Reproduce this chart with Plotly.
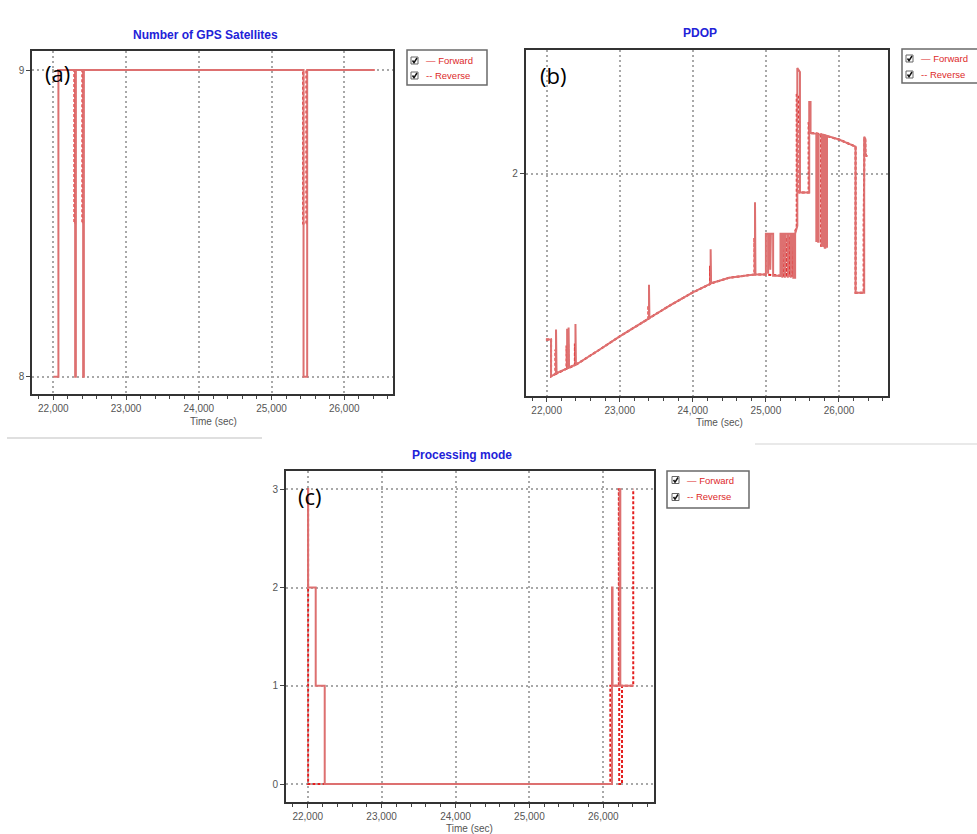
import plotly.graph_objects as go

W, H = 977, 834

# ---------------- data ----------------
# (a) Number of GPS satellites
sat_fwd_t = [22000, 22070, 22300, 22310, 22410, 22420, 25440, 25490, 26415]
sat_fwd_v = [8, 9, 8, 9, 8, 9, 8, 9, 9]
sat_rev_t = [22070, 22290, 22300, 22400, 22410, 25435, 25480, 26415]
sat_rev_v = [9, 8.5, 9, 8.5, 9, 8.5, 9, 9]

# (b) PDOP
pdop_fwd_t = [21990, 22060, 22060, 22128, 22128, 22135, 22280, 22280, 22286, 22300, 22300, 22306,
              22394, 22394, 22400, 22700, 23000, 23400, 23400, 23406, 23700, 24000,
              24244, 24244, 24250, 24500, 24773, 24851, 24851, 24857, 25000,
              25000, 25030, 25030, 25040, 25040, 25060, 25060, 25068, 25068, 25099, 25099,
              25200, 25200, 25225, 25225, 25235, 25235, 25260, 25260, 25270, 25270,
              25300, 25300, 25310, 25310, 25340, 25340, 25350, 25350, 25375, 25375,
              25394, 25400, 25400, 25420, 25430, 25430, 25466, 25466, 25593, 25593,
              25611, 25611, 25690, 25690, 25697, 25697, 25715, 25715, 25722, 25722,
              25761, 25761, 25768, 25768, 25785, 25785, 25792, 25792, 25806, 25806,
              25813, 25813, 25829, 25829, 25836, 25836, 25900, 26000, 26100, 26227,
              26227, 26345, 26345, 26360, 26362, 26381]
pdop_fwd_v = [1.585, 1.585, 1.493, 1.500, 1.610, 1.501, 1.513, 1.612, 1.513, 1.514, 1.615, 1.515,
              1.522, 1.624, 1.522, 1.557, 1.593, 1.638, 1.7225, 1.639, 1.672, 1.703,
              1.725, 1.811, 1.726, 1.740, 1.7475, 1.748, 1.929, 1.748, 1.748,
              1.850, 1.850, 1.750, 1.750, 1.850, 1.850, 1.760, 1.760, 1.850, 1.850, 1.745,
              1.745, 1.850, 1.850, 1.740, 1.740, 1.850, 1.850, 1.740, 1.740, 1.850,
              1.850, 1.740, 1.740, 1.850, 1.850, 1.740, 1.740, 1.850, 1.850, 1.740,
              1.740, 1.740, 1.850, 1.870, 1.870, 2.265, 2.255, 1.953, 1.953, 2.180,
              2.180, 2.1025, 2.100, 1.832, 1.832, 2.100, 2.099, 1.830, 1.830, 2.099,
              2.098, 1.820, 1.820, 2.098, 2.097, 1.820, 1.820, 2.097, 2.096, 1.815,
              1.815, 2.096, 2.095, 1.8175, 1.8175, 2.095, 2.092, 2.086, 2.078, 2.068,
              1.7025, 1.7025, 2.093, 2.088, 2.050, 2.043]
pdop_rev_t = [21990, 22060, 22060, 22120, 22120, 22126, 22272, 22272, 22278, 22294, 22294, 22300,
              22386, 22386, 22392, 22700, 23000, 23392, 23392, 23398, 23700, 24000,
              24236, 24236, 24242, 24500, 24773, 24843, 24843, 24849, 25000, 25210,
              25210, 25218, 25218, 25245, 25245, 25252, 25252, 25285, 25285, 25292, 25292,
              25325, 25325, 25332, 25332, 25362, 25362, 25368, 25368, 25394, 25394, 25422,
              25422, 25450, 25450, 25458, 25458, 25585, 25585, 25600, 25700,
              25755, 25755, 25760, 25760, 25775, 25775, 25780, 25780, 25798, 25798, 25803, 25803,
              25900, 26000, 26100, 26227, 26227, 26338, 26338, 26350, 26360, 26362, 26381]
pdop_rev_v = [1.585, 1.585, 1.493, 1.499, 1.560, 1.499, 1.512, 1.570, 1.512, 1.514, 1.575, 1.514,
              1.521, 1.575, 1.521, 1.557, 1.593, 1.637, 1.670, 1.638, 1.672, 1.703,
              1.724, 1.770, 1.725, 1.740, 1.7475, 1.748, 1.840, 1.748, 1.748, 1.745,
              1.840, 1.840, 1.745, 1.745, 1.840, 1.840, 1.745, 1.745, 1.840, 1.840, 1.745,
              1.745, 1.840, 1.840, 1.745, 1.745, 1.840, 1.840, 1.745, 1.745, 1.850, 1.870,
              2.200, 2.190, 2.130, 2.130, 1.953, 1.953, 2.130, 2.102, 2.101,
              2.098, 1.820, 1.820, 2.098, 2.097, 1.820, 1.820, 2.097, 2.096, 1.815, 1.815, 2.096,
              2.092, 2.086, 2.078, 2.068, 1.7025, 1.7025, 1.880, 2.090, 2.085, 2.050, 2.043]

# (c) Processing mode
mode_fwd_t = [22000, 22005, 22108, 22230, 26118, 26125, 26221, 26230, 26411]
mode_fwd_v = [3, 2, 1, 0, 2, 1, 3, 1, 1]
mode_rev_t = [21995, 22005, 26095, 26210, 26215, 26253, 26405, 26411]
mode_rev_v = [3, 0, 1, 3, 0, 1, 3, 3]

titles = ["Number of GPS Satellites", "PDOP", "Processing mode"]
panel_tags = ["(a)", "(b)", "(c)"]
series_names = ["Forward", "Reverse"]
x_title = "Time (sec)"

# ---------------- styling / layout helpers ----------------
def px(x):
    return x / W

def py(y):
    return 1 - y / H

FWD = "rgb(221,112,112)"
REV = "rgb(228,30,30)"
TXT = "#555555"
FONT = "Liberation Sans, Arial, sans-serif"

fig = go.Figure()

panels = [
    dict(ft=sat_fwd_t, fv=sat_fwd_v, rt=sat_rev_t, rv=sat_rev_v, shape="hv",
         box=(32.3, 51, 393.3, 394), xr=[21711, 26674], yr=[7.944, 9.062]),
    dict(ft=pdop_fwd_t, fv=pdop_fwd_v, rt=pdop_rev_t, rv=pdop_rev_v, shape="linear",
         box=(525.7, 50, 888.3, 395.7), xr=[21713, 26675], yr=[1.4445, 2.31]),
    dict(ft=mode_fwd_t, fv=mode_fwd_v, rt=mode_rev_t, rv=mode_rev_v, shape="hv",
         box=(286, 471, 654.3, 801.7), xr=[21706, 26690], yr=[-0.18, 3.186]),
]

layout = dict(width=W, height=H,
              margin=dict(l=0, r=0, t=0, b=0, autoexpand=False),
              paper_bgcolor="white", plot_bgcolor="white", showlegend=False)

for i, p in enumerate(panels):
    sfx = "" if i == 0 else str(i + 1)
    xa, ya = "x" + sfx, "y" + sfx
    fig.add_trace(go.Scatter(x=p["rt"], y=p["rv"], mode="lines", name=series_names[1],
                             line=dict(color=REV, width=2, dash="3px,2px", shape=p["shape"]),
                             xaxis=xa, yaxis=ya, hoverinfo="skip"))
    fig.add_trace(go.Scatter(x=p["ft"], y=p["fv"], mode="lines", name=series_names[0],
                             line=dict(color=FWD, width=2, shape=p["shape"]),
                             xaxis=xa, yaxis=ya, hoverinfo="skip"))
    x0, y0, x1, y1 = p["box"]
    layout["xaxis" + sfx] = dict(
        domain=[px(x0), px(x1)], range=p["xr"], anchor=ya,
        tick0=0, dtick=1000, tickformat=",d",
        ticks="outside", ticklen=4, tickwidth=1, tickcolor="#444",
        minor=dict(dtick=200, ticks="outside", ticklen=3, tickcolor="#444", showgrid=False),
        showgrid=True, gridcolor="#a8a8a8", gridwidth=1.5, griddash="2px,3px",
        showline=True, linecolor="#333333", linewidth=2, mirror=True,
        zeroline=False, tickfont=dict(family=FONT, size=10, color=TXT))
    layout["yaxis" + sfx] = dict(
        domain=[py(y1), py(y0)], range=p["yr"], anchor=xa,
        tick0=0, dtick=1,
        ticks="outside", ticklen=4, tickwidth=1, tickcolor="#444",
        showgrid=True, gridcolor="#a8a8a8", gridwidth=1.5, griddash="2px,3px",
        showline=True, linecolor="#333333", linewidth=2, mirror=True,
        zeroline=False, tickfont=dict(family=FONT, size=10, color=TXT))

fig.update_layout(**layout)

ann = []
# chart titles
for text, (cx, cy) in zip(titles, [(205, 35), (700, 33), (462, 455)]):
    ann.append(dict(x=px(cx), y=py(cy), xref="paper", yref="paper", text="<b>%s</b>" % text,
                    showarrow=False, xanchor="center", yanchor="middle",
                    font=dict(family=FONT, size=12, color="#2222d8")))
# axis titles
for cx, cy in [(213, 422), (719, 423), (469, 828)]:
    ann.append(dict(x=px(cx), y=py(cy), xref="paper", yref="paper", text=x_title,
                    showarrow=False, xanchor="center", yanchor="middle",
                    font=dict(family=FONT, size=10, color=TXT)))
# panel tags
for tag, (cx, cy) in zip(panel_tags, [(57, 73), (553, 75), (310, 496)]):
    ann.append(dict(x=px(cx), y=py(cy), xref="paper", yref="paper", text=tag,
                    showarrow=False, xanchor="center", yanchor="middle",
                    font=dict(family="Open Sans, sans-serif", size=22, color="black")))

shapes = []
# legends: (box x0, y0, x1, y1, row1 y, row2 y, checkbox x, text x)
legends = [(407, 50, 487, 85, 60.5, 75.5, 411, 424),
           (902, 49, 985, 83, 58.5, 74.5, 906, 919),
           (667, 471, 749, 508, 480, 497, 672, 685)]
labels = ["— " + series_names[0], "-- " + series_names[1]]
for bx0, by0, bx1, by1, r1, r2, cbx, tx in legends:
    shapes.append(dict(type="rect", xref="paper", yref="paper",
                       x0=px(bx0), y0=py(by0), x1=px(bx1), y1=py(by1),
                       line=dict(color="#6a6a6a", width=1.5), fillcolor="white"))
    for ry, lab in zip([r1, r2], labels):
        shapes.append(dict(type="rect", xref="paper", yref="paper",
                           x0=px(cbx), y0=py(ry - 3.5), x1=px(cbx + 7), y1=py(ry + 3.5),
                           line=dict(color="#666", width=1), fillcolor="white"))
        shapes.append(dict(type="path", xref="paper", yref="paper",
                           path="M %f %f L %f %f L %f %f" % (px(cbx + 1.5), py(ry), px(cbx + 3), py(ry + 2.2),
                                                             px(cbx + 6), py(ry - 2.5)),
                           line=dict(color="#111", width=1.5)))
        ann.append(dict(x=px(tx), y=py(ry), xref="paper", yref="paper", text=lab,
                        showarrow=False, xanchor="left", yanchor="middle",
                        font=dict(family=FONT, size=9.5, color="#dd2a2a")))

# faint screenshot separators
shapes.append(dict(type="line", xref="paper", yref="paper", x0=px(7), x1=px(262), y0=py(438), y1=py(438),
                   line=dict(color="#d4d4d4", width=1.5)))
shapes.append(dict(type="line", xref="paper", yref="paper", x0=px(755), x1=px(977), y0=py(444), y1=py(444),
                   line=dict(color="#e2e2e2", width=1.5)))

fig.update_layout(annotations=ann, shapes=shapes)
fig.write_html("out.html")
